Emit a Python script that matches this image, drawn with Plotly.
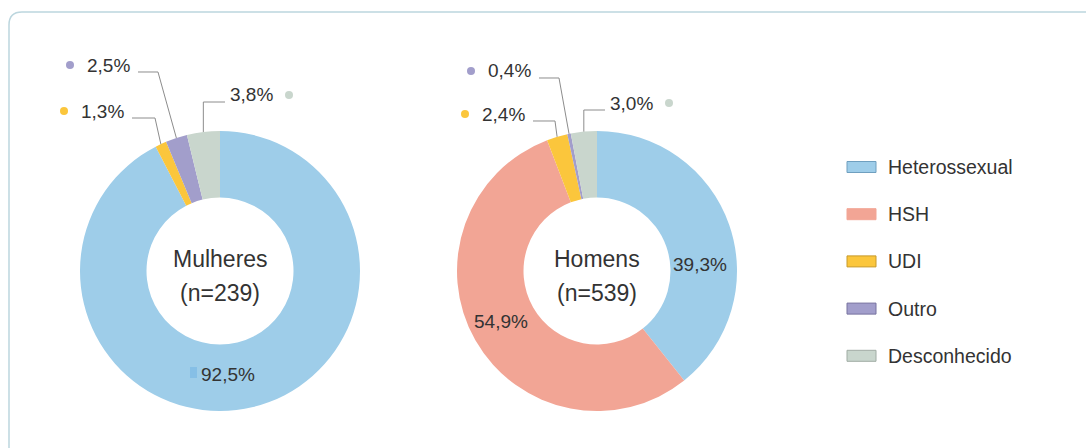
import math
import plotly.graph_objects as go

# ---------------- data ----------------
categories = ["Heterossexual", "HSH", "UDI", "Outro", "Desconhecido"]
colors = ["#9ecde9", "#f2a595", "#fbc63c", "#a29ecb", "#c9d6cd"]
key_lines = ["#6f9fbf", "#f2a595", "#c79a2a", "#77739f", "#a0aca4"]

mulheres = [92.5, 0.0, 1.3, 2.5, 3.8]
homens = [39.3, 54.9, 2.4, 0.4, 3.0]
titles = ["Mulheres", "Homens"]
n_vals = [239, 539]

W, H = 1086, 448
R = 140
CY = 271
centers = [220, 597]
TXT = "#333333"


def fx(x):
    return x / W


def fy(y):
    return 1 - y / H


def fmt(v):
    return ("%.1f%%" % v).replace(".", ",")


def label(x, y, text, size=19, anchor="center"):
    return dict(x=fx(x), y=fy(y), xref="paper", yref="paper", text=text,
                xanchor=anchor, yanchor="middle", showarrow=False,
                font=dict(size=size, color=TXT))


fig = go.Figure()

for cx, vals in zip(centers, [mulheres, homens]):
    fig.add_trace(go.Pie(
        values=vals, labels=categories, sort=False, direction="clockwise",
        hole=0.525, marker=dict(colors=colors, line=dict(width=0)),
        textinfo="none",
        domain=dict(x=[fx(cx - R), fx(cx + R)], y=[fy(CY + R), fy(CY - R)]),
        showlegend=False, hoverinfo="label+percent",
    ))

shapes = []
annotations = []

# rounded frame
r = 13
shapes.append(dict(
    type="path", xref="paper", yref="paper",
    path="M %f %f L %f %f Q %f %f %f %f L %f %f" % (
        fx(9), fy(H + 5), fx(9), fy(12 + r), fx(9), fy(12), fx(9 + r), fy(12), fx(W + 5), fy(12)),
    line=dict(color="#bcd6de", width=1.5),
))

# centre labels
for cx, t, n in zip(centers, titles, n_vals):
    annotations.append(label(cx, 259, t, size=23))
    annotations.append(label(cx, 293, "(n=%d)" % n, size=23))

# labels inside the big slices: (chart, slice index, x, y)
inside = [(0, 0, 228, 374), (1, 0, 700, 264), (1, 1, 501, 321)]
for ci, si, x, y in inside:
    vals = [mulheres, homens][ci]
    annotations.append(label(x, y, fmt(vals[si])))

# callouts: (chart, slice index, elbow x, elbow y, end x, side)
callouts = [
    (0, 3, 158, 72, 138, "left"),
    (0, 2, 155, 118, 132, "left"),
    (0, 4, 203, 102, 225, "right"),
    (1, 3, 559, 78, 539, "left"),
    (1, 2, 555, 121, 533, "left"),
    (1, 4, 583, 110, 605, "right"),
]
for ci, si, ex, ey, endx, side in callouts:
    vals = [mulheres, homens][ci]
    cx = centers[ci]
    mid = (sum(vals[:si]) + vals[si] / 2) / sum(vals)
    ang = 2 * math.pi * mid
    sx = cx + R * math.sin(ang)
    sy = CY - R * math.cos(ang)
    if side == "right":
        ex = sx
    shapes.append(dict(type="path", xref="paper", yref="paper",
                       path="M %f %f L %f %f L %f %f" % (fx(sx), fy(sy), fx(ex), fy(ey), fx(endx), fy(ey)),
                       line=dict(color="#8c8c8c", width=1)))
    ty = ey - 7
    if side == "left":
        annotations.append(label(endx - 6, ty, fmt(vals[si]), anchor="right"))
        dotx = endx - 6 - 62
    else:
        annotations.append(label(endx + 3, ty, fmt(vals[si]), anchor="left"))
        dotx = endx + 3 + 61
    shapes.append(dict(type="circle", xref="paper", yref="paper",
                       x0=fx(dotx - 4), x1=fx(dotx + 4), y0=fy(ty + 4), y1=fy(ty - 4),
                       fillcolor=colors[si], line=dict(width=0)))

# small key mark beside 92,5%
shapes.append(dict(type="rect", xref="paper", yref="paper", x0=fx(190), x1=fx(197),
                   y0=fy(378), y1=fy(367), fillcolor="#86bfe6", line=dict(width=0)))

# legend
for i, (cat, col, lc) in enumerate(zip(categories, colors, key_lines)):
    yc = 167 + i * 47.2
    shapes.append(dict(type="rect", xref="paper", yref="paper", x0=fx(847), x1=fx(876),
                       y0=fy(yc + 5.5), y1=fy(yc - 5.5), fillcolor=col, line=dict(color=lc, width=1)))
    annotations.append(label(886, yc, cat, size=19.5, anchor="left"))

fig.update_layout(
    width=W, height=H, margin=dict(l=0, r=0, t=0, b=0),
    paper_bgcolor="white", plot_bgcolor="white",
    font=dict(family="Liberation Sans, Arial, sans-serif", color=TXT),
    shapes=shapes, annotations=annotations,
)

fig.write_html("out.html", config={"displayModeBar": False},
               post_script="document.body.style.margin='0';")
